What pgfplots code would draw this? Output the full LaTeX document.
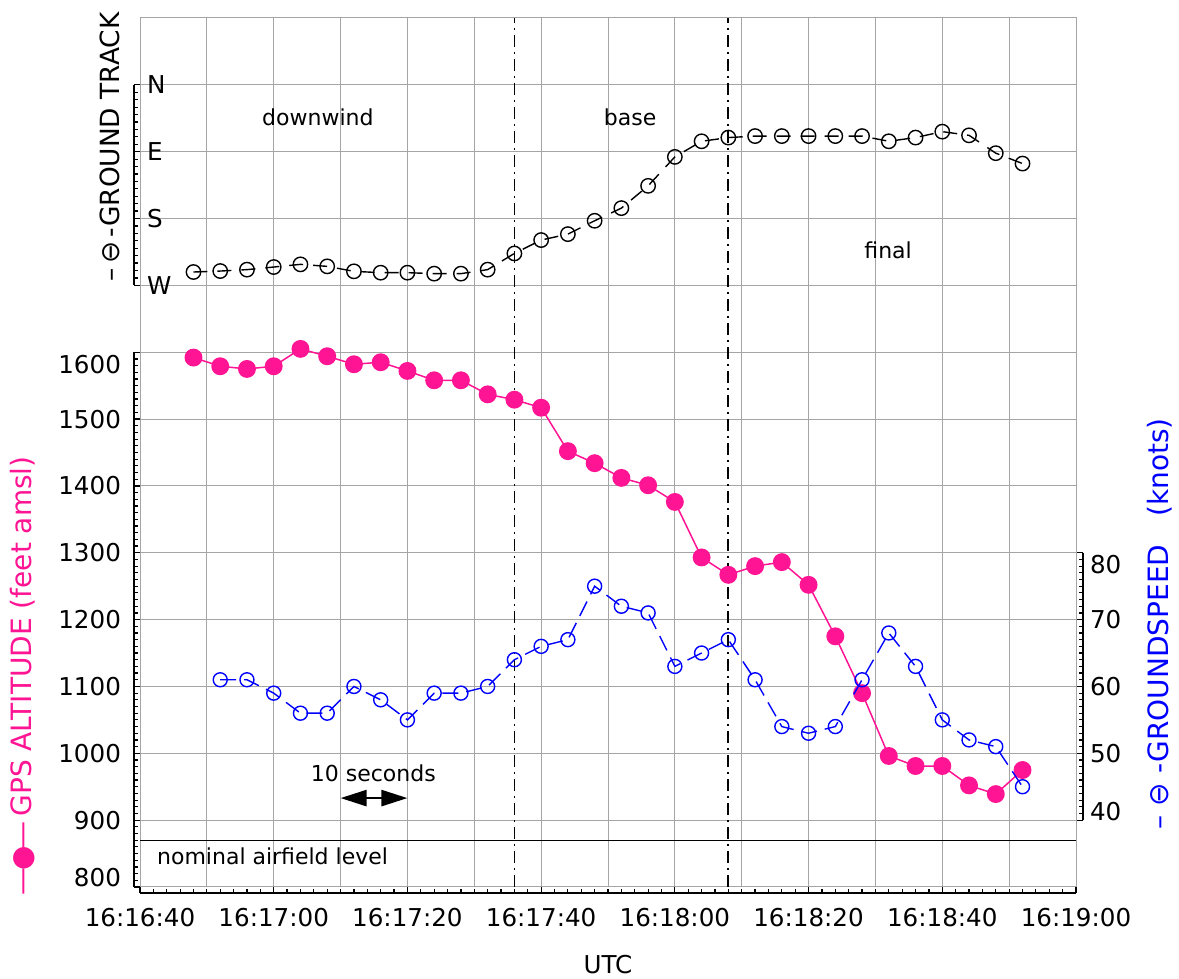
\documentclass[border=0pt]{standalone}
\usepackage{fontspec}
\setmainfont{DejaVu Sans}
\usepackage{pgfplots}
\usepackage{pgfplotstable}
\pgfplotsset{compat=1.18}
\usetikzlibrary{arrows.meta}
\definecolor{altc}{RGB}{255,20,147}
\definecolor{gridgray}{RGB}{165,165,165}
\newcommand\ticksize{\fontsize{12.3}{14}\selectfont}
\newcommand\annsize{\fontsize{11}{13}\selectfont}
\newcommand\titsize{\fontsize{14}{16}\selectfont}
\newcommand\tracksize{\fontsize{13.2}{15}\selectfont}

\pgfplotstableread{
t alt
8 1592
12 1579
16 1575
20 1579
24 1605
28 1594
32 1582
36 1585
40 1572
44 1558
48 1558
52 1537
56 1529
60 1517
64 1452
68 1434
72 1412
76 1401
80 1376
84 1293
88 1267
92 1280
96 1286
100 1252
104 1175
108 1090
112 996
116 981
120 981
124 952
128 939
132 975
}\altdata

\pgfplotstableread{
t gs
12 61
16 61
20 59
24 56
28 56
32 60
36 58
40 55
44 59
48 59
52 60
56 64
60 66
64 67
68 75
72 72
76 71
80 63
84 65
88 67
92 61
96 54
100 53
104 54
108 61
112 68
116 63
120 55
124 52
128 51
132 45
}\gsdata

\pgfplotstableread{
t trk
8 252
12 250.7
16 248.8
20 245.3
24 241.7
28 244.4
32 251.1
36 252.9
40 252.9
44 254.2
48 254.2
52 248.8
56 227
60 209
64 201
68 183
72 166
76 136
80 97
84 76
88 71
92 69
96 69
100 69
104 69
108 69
112 76
116 71
120 63
124 68
128 92
132 106
}\trkdata

\pgfplotsset{
  base/.style={scale only axis, anchor=south west, clip=false},
  deco/.style={base, tick align=inside, major tick length=3.2pt, minor tick length=2pt,
    axis line style={black, line width=1pt}, tick style={black, line width=0.6pt},
    ticklabel style={font=\ticksize}},
}

\begin{document}
\begin{tikzpicture}
\useasboundingbox (-70pt,-46pt) rectangle (519.5pt,443.5pt);

% frame, grid, altitude
\begin{axis}[base, at={(0pt,0pt)}, width=468pt, height=434.5pt,
  xmin=0, xmax=140, ymin=800, ymax=2100,
  xtick={0,10,...,140}, ytick={800,900,...,2100},
  xticklabels={}, yticklabels={},
  grid=major, major grid style={gridgray, line width=0.5pt},
  axis line style={gridgray, line width=0.5pt},
  tick style={draw=none}]
\addplot[black, line width=0.6pt] coordinates {(0,870) (140,870)};
\addplot[black, line width=0.9pt, dash pattern=on 6pt off 2.5pt on 1pt off 2.5pt] coordinates {(56,800) (56,2100)};
\addplot[black, line width=0.9pt, dash pattern=on 6pt off 2.5pt on 1pt off 2.5pt] coordinates {(88,800) (88,2100)};
\addplot[altc, line width=0.75pt, mark=*, mark size=4.1pt, mark options={solid, fill=altc, draw=altc}] table[x=t, y=alt] {\altdata};
\draw[line width=1.2pt, {Triangle[length=13pt,width=8pt]}-{Triangle[length=13pt,width=8pt]}] (axis cs:30,933) -- (axis cs:40,933);
\node[font=\annsize] at (axis cs:26.6,1951) {downwind};
\node[font=\annsize] at (axis cs:73.3,1951) {base};
\node[font=\annsize] at (axis cs:111.9,1752) {final};
\node[font=\annsize] at (axis cs:34.9,970) {10 seconds};
\node[font=\annsize, anchor=west, inner sep=0pt] at (axis cs:2.5,846) {nominal airfield level};
\end{axis}

% groundspeed data
\begin{axis}[base, at={(0pt,0pt)}, width=468pt, height=434.5pt,
  xmin=0, xmax=140, ymin=30, ymax=160, hide axis]
\addplot[blue, line width=0.7pt, dash pattern=on 8pt off 4pt, mark=o, mark size=3.5pt, mark options={solid}] table[x=t, y=gs] {\gsdata};
\end{axis}

% ground track data
\begin{axis}[base, at={(0pt,0pt)}, width=468pt, height=434.5pt,
  xmin=0, xmax=140, ymin=-90, ymax=1080, y dir=reverse, hide axis]
\addplot[black, line width=0.7pt, dash pattern=on 7pt off 5pt, mark=o, mark size=3.6pt, mark options={solid}] table[x=t, y=trk] {\trkdata};
\end{axis}

% left altitude axis
\begin{axis}[deco, at={(-3pt,0pt)}, width=3pt, height=267.38pt,
  xmin=0, xmax=1, ymin=800, ymax=1600,
  axis x line=none, axis y line*=left,
  ytick={800,900,...,1600},
  yticklabels={\smash{800},900,1000,1100,1200,1300,1400,1500,\smash{\raisebox{-10.5pt}{1600}}},
  minor y tick num=9,
  yticklabel style={xshift=-3pt}]
\end{axis}

% top track axis
\begin{axis}[deco, at={(-3pt,300.81pt)}, width=3pt, height=100.27pt,
  xmin=0, xmax=1, ymin=0, ymax=270, y dir=reverse,
  axis x line=none, axis y line*=left,
  ytick={0,90,180,270}, yticklabels={N,E,S,W},
  minor y tick num=8,
  yticklabel style={anchor=west, xshift=3pt}]
\end{axis}

% right groundspeed axis
\begin{axis}[deco, at={(468pt,33.42pt)}, width=3.5pt, height=133.69pt,
  xmin=0, xmax=1, ymin=40, ymax=80,
  axis x line=none, axis y line*=right,
  ytick={40,50,...,80},
  yticklabels={\smash{40},50,60,70,\smash{\raisebox{-10.5pt}{80}}},
  minor y tick num=9]
\end{axis}

% bottom time axis
\begin{axis}[deco, at={(0pt,-3pt)}, width=468pt, height=3pt,
  xmin=0, xmax=140, ymin=0, ymax=1,
  axis y line=none, axis x line*=bottom,
  xtick={0,20,...,140},
  xticklabels={16:16:40,16:17:00,16:17:20,16:17:40,16:18:00,16:18:20,16:18:40,16:19:00},
  minor x tick num=9,
  xticklabel style={yshift=-4pt}]
\end{axis}

% axis titles
\node[font=\ticksize] at (234pt,-39pt) {UTC};
\node[font=\titsize, rotate=90, text=altc] at (-58.5pt,105.5pt) {—\kern-1.5pt●\kern-1.5pt—\,GPS ALTITUDE (feet amsl)};
\node[font=\titsize, rotate=90, text=blue] at (510pt,131.5pt) {–\,\,⊖\,\,-GROUNDSPEED\quad(knots)};
\node[font=\tracksize, rotate=90, text=black] at (-15pt,370pt) {–\,⊖\,-GROUND TRACK};
\end{tikzpicture}
\end{document}
